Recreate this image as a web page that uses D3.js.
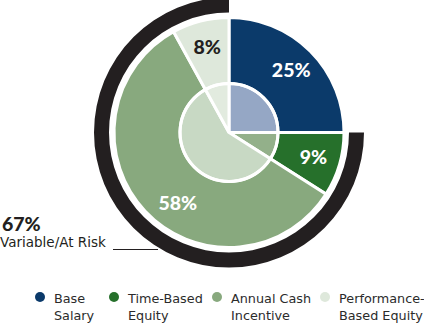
<!DOCTYPE html>
<html><head><meta charset="utf-8">
<script src="https://cdn.jsdelivr.net/npm/d3@7"></script>
<style>
html,body{margin:0;padding:0;background:#fff;}
svg{display:block;font-family:"DejaVu Sans",sans-serif;}
</style></head>
<body><svg id="c" width="424" height="323"></svg>
<script>
// ---- data ----
const categories = ["Base Salary", "Time-Based Equity", "Annual Cash Incentive", "Performance-Based Equity"];
const legendLines = [["Base", "Salary"], ["Time-Based", "Equity"], ["Annual Cash", "Incentive"], ["Performance-", "Based Equity"]];
const values = [25, 9, 58, 8];
const variableFlags = [false, true, true, true];
const variableShare = 67;
const variableLabel = "Variable/At Risk";

// ---- style ----
const outerColors = ["#0b3a6a", "#26702b", "#88a97e", "#dee8db"];
const innerColors = ["#95a7c5", "#93b08a", "#c8d9c4", "#e2ebdf"];
const labelColors = ["#fff", "#fff", "#fff", "#231f20"];
const labelNudge = [[0, 0], [0, 0], [13, 10], [0, 0]];

const svg = d3.select("#c");
const cx = 229, cy = 132.5;
const R = 115, r = 49, blackIn = 120, blackOut = 135;

const pie = d3.pie().sort(null).value(d => d)(values);
const g = svg.append("g").attr("transform", `translate(${cx},${cy})`);

// black variable arc
const fixedUpTo = pie[variableFlags.indexOf(true)].startAngle;
g.append("path")
  .attr("d", d3.arc().innerRadius(blackIn).outerRadius(blackOut)({startAngle: fixedUpTo, endAngle: 2 * Math.PI}))
  .attr("fill", "#231f20");

// outer pie
const arcOuter = d3.arc().innerRadius(0).outerRadius(R);
g.selectAll("path.o").data(pie).join("path").attr("class", "o")
  .attr("d", arcOuter)
  .attr("fill", (d, i) => outerColors[i])
  .attr("stroke", "#fff").attr("stroke-width", 3).attr("stroke-linejoin", "miter");

// inner pie
const arcInner = d3.arc().innerRadius(0).outerRadius(r);
g.selectAll("path.i").data(pie).join("path").attr("class", "i")
  .attr("d", arcInner)
  .attr("fill", (d, i) => innerColors[i])
  .attr("stroke", "#fff").attr("stroke-width", 3);
g.append("circle").attr("r", r).attr("fill", "none").attr("stroke", "#fff").attr("stroke-width", 3);

// labels
const arcLabel = d3.arc().innerRadius(88).outerRadius(88);
g.selectAll("text.p").data(pie).join("text").attr("class", "p")
  .attr("x", (d, i) => arcLabel.centroid(d)[0] + labelNudge[i][0])
  .attr("y", (d, i) => arcLabel.centroid(d)[1] + labelNudge[i][1])
  .attr("dy", "0.35em")
  .attr("text-anchor", "middle")
  .attr("fill", (d, i) => labelColors[i])
  .style("font-family", "Lato, sans-serif")
  .style("font-weight", 900).style("font-size", "19.5px")
  .text(d => d.value + "%");

// variable annotation
svg.append("text").attr("x", 2).attr("y", 230.5)
  .style("font-family", "Lato, sans-serif")
  .style("font-weight", 900).style("font-size", "19.5px").attr("fill", "#231f20")
  .text(variableShare + "%");
svg.append("text").attr("x", 0).attr("y", 246.5)
  .style("font-size", "13.5px").attr("fill", "#231f20")
  .text(variableLabel);
svg.append("line").attr("x1", 113).attr("x2", 158).attr("y1", 249.5).attr("y2", 249.5)
  .attr("stroke", "#231f20").attr("stroke-width", 1.2);

// legend
const legendX = [40, 114, 217, 325];
const lg = svg.selectAll("g.lg").data(categories).join("g").attr("class", "lg")
  .attr("transform", (d, i) => `translate(${legendX[i]},297)`);
lg.append("circle").attr("r", 5).attr("fill", (d, i) => outerColors[i]);
lg.each(function(d, i) {
  const t = d3.select(this).append("text").attr("x", 14).attr("y", 5.5)
    .style("font-size", "12.8px").attr("fill", "#2b2b2b");
  legendLines[i].forEach((ln, k) => t.append("tspan").attr("x", 14).attr("dy", k ? 17 : 0).text(ln));
});
</script></body></html>
